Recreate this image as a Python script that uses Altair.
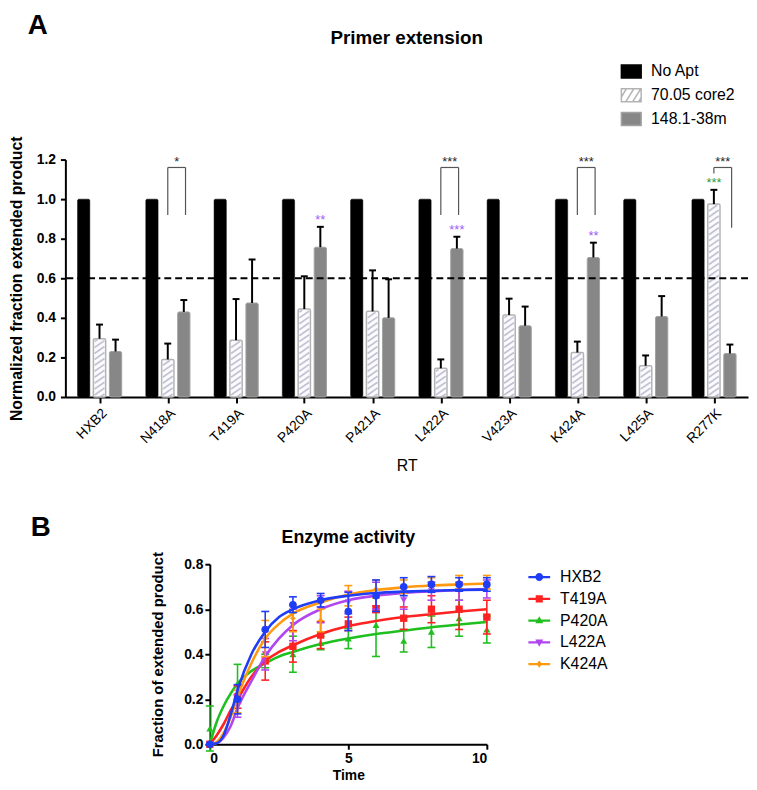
import altair as alt
import pandas as pd

FONT = "Liberation Sans, Arial, Helvetica, sans-serif"

# ---------------- Panel A data ----------------
mutants_a = ["HXB2", "N418A", "T419A", "P420A", "P421A", "L422A", "V423A", "K424A", "L425A", "R277K"]
conds = ["No Apt", "70.05 core2", "148.1-38m"]
noapt_vals = [1.0, 1.0, 1.0, 1.0, 1.0, 1.0, 1.0, 1.0, 1.0, 1.0]
core2_vals = [0.295, 0.19, 0.287, 0.445, 0.433, 0.145, 0.415, 0.225, 0.158, 0.975]
core2_err_top = [0.366, 0.27, 0.495, 0.61, 0.64, 0.19, 0.497, 0.28, 0.21, 1.047]
m148_vals = [0.23, 0.43, 0.475, 0.757, 0.40, 0.75, 0.36, 0.705, 0.407, 0.22]
m148_err_top = [0.29, 0.49, 0.695, 0.86, 0.595, 0.81, 0.457, 0.78, 0.51, 0.265]

bracket_groups = [1, 5, 7, 9]
bracket_text = ["*", "***", "***", "***"]
bracket_top = [1.16, 1.16, 1.16, 1.16]
bracket_left_bottom = [0.92, 0.92, 0.92, 1.13]
bracket_right_bottom = [0.92, 0.92, 0.92, 0.855]

sig_groups = [3, 5, 7, 9]
sig_text = ["**", "***", "**", "***"]
sig_cond = ["148.1-38m", "148.1-38m", "148.1-38m", "70.05 core2"]
sig_color = ["#9b5cf6", "#9b5cf6", "#9b5cf6", "#2f9a3a"]

threshold = [0.6]

# ---------------- Panel B data ----------------
series_b = ["HXB2", "T419A", "P420A", "L422A", "K424A"]
colors_b = ["#1f3df5", "#ff2222", "#1fbf1f", "#b146f0", "#ff9a10"]
times = [0, 1, 2, 3, 4, 5, 6, 7, 8, 9, 10]
vals_b = {
    "HXB2":  [0.0, 0.20, 0.51, 0.62, 0.64, 0.59, 0.66, 0.70, 0.71, 0.71, 0.71],
    "T419A": [0.0, 0.21, 0.37, 0.435, 0.485, 0.535, 0.60, 0.56, 0.60, 0.60, 0.565],
    "P420A": [0.07, 0.27, 0.37, 0.40, 0.45, 0.47, 0.53, 0.46, 0.50, 0.56, 0.51],
    "L422A": [0.0, 0.17, 0.40, 0.53, 0.60, 0.63, 0.66, 0.64, 0.68, 0.68, 0.69],
    "K424A": [0.0, 0.19, 0.47, 0.56, 0.55, 0.66, 0.69, 0.70, 0.71, 0.72, 0.72],
}
errs_b = {
    "HXB2":  [0.0, 0.065, 0.08, 0.035, 0.03, 0.085, 0.07, 0.04, 0.035, 0.03, 0.03],
    "T419A": [0.0, 0.05, 0.085, 0.07, 0.06, 0.03, 0.015, 0.05, 0.06, 0.09, 0.075],
    "P420A": [0.10, 0.085, 0.03, 0.08, 0.03, 0.045, 0.14, 0.05, 0.07, 0.08, 0.06],
    "L422A": [0.0, 0.05, 0.07, 0.07, 0.06, 0.05, 0.06, 0.04, 0.04, 0.04, 0.04],
    "K424A": [0.0, 0.05, 0.08, 0.06, 0.05, 0.045, 0.04, 0.03, 0.03, 0.03, 0.03],
}
curve_t = [0, 0.25, 0.5, 0.75, 1, 1.5, 2, 2.5, 3, 4, 5, 6, 7, 8, 9, 10]
curves_b = {
    "HXB2":  [0, 0.005, 0.04, 0.13, 0.24, 0.40, 0.50, 0.565, 0.60, 0.64, 0.66, 0.672, 0.678, 0.682, 0.685, 0.687],
    "T419A": [0, 0.04, 0.09, 0.15, 0.20, 0.30, 0.37, 0.41, 0.44, 0.49, 0.525, 0.548, 0.565, 0.578, 0.59, 0.60],
    "P420A": [0, 0.10, 0.17, 0.225, 0.27, 0.325, 0.36, 0.39, 0.41, 0.445, 0.47, 0.49, 0.505, 0.52, 0.532, 0.543],
    "L422A": [0, 0.005, 0.03, 0.08, 0.16, 0.28, 0.39, 0.47, 0.53, 0.60, 0.64, 0.66, 0.672, 0.68, 0.685, 0.69],
    "K424A": [0, 0.01, 0.05, 0.12, 0.21, 0.36, 0.47, 0.535, 0.58, 0.63, 0.665, 0.685, 0.697, 0.705, 0.71, 0.714],
}
shapes_b = ["circle", "square", "triangle-up", "triangle-down", "diamond"]
sizes_b = [60, 55, 50, 50, 32]
draw_order_b = ["P420A", "T419A", "L422A", "K424A", "HXB2"]

# ---------------- Layout ----------------
WA, HA = 690, 240
WB, HB = 280, 182

xsA = alt.Scale(domain=[-0.5, 9.5], nice=False, zero=False)
ysA = alt.Scale(domain=[0, 1.2], nice=False)
OFF = {"No Apt": -0.232, "70.05 core2": 0.0, "148.1-38m": 0.235}
BW = 0.18

bar_rows = []
for g in range(10):
    for c, vals in zip(conds, [noapt_vals, core2_vals, m148_vals]):
        xc = g + OFF[c]
        bar_rows.append(dict(g=g, cond=c, xc=xc, x0=xc - BW / 2, x1=xc + BW / 2, v=vals[g], base=0.0))
bars = pd.DataFrame(bar_rows)

err_rows = []
for g in range(10):
    err_rows.append(dict(xc=g + OFF["70.05 core2"], v=core2_vals[g], top=core2_err_top[g]))
    err_rows.append(dict(xc=g + OFF["148.1-38m"], v=m148_vals[g], top=m148_err_top[g]))
errs = pd.DataFrame(err_rows)

# hatch stripes inside the 70.05 core2 bars
PX_X = WA / 10.0
PX_Y = HA / 1.2
HW = 5.0 / PX_X
RISE = 7.0 / PX_Y
STEP = 6.0 / PX_Y
hatch_rows = []
for g, v in enumerate(core2_vals):
    xc = g + OFF["70.05 core2"]
    xl, xr = xc - HW, xc + HW
    top = v - 1.0 / PX_Y
    b = -RISE + 0.5 * STEP
    while b < top:
        t0 = max(0.0, -b / RISE)
        t1 = min(1.0, (top - b) / RISE)
        if t1 > t0:
            hatch_rows.append(dict(hx=xl + t0 * (xr - xl), hx2=xl + t1 * (xr - xl),
                                   hy=b + t0 * RISE, hy2=b + t1 * RISE))
        b += STEP
hatch = pd.DataFrame(hatch_rows)

BR_OFF = 0.26
br_rows, br_h = [], []
for g, lb, rb, tp in zip(bracket_groups, bracket_left_bottom, bracket_right_bottom, bracket_top):
    br_h.append(dict(x=g, x2=g + BR_OFF, y=tp))
    br_rows.append(dict(x=g, y=lb, y2=tp))
    br_rows.append(dict(x=g + BR_OFF, y=rb, y2=tp))
br_h = pd.DataFrame(br_h)
br_v = pd.DataFrame(br_rows)
br_txt = pd.DataFrame(dict(x=[g + BR_OFF / 2 for g in bracket_groups], y=bracket_top, t=bracket_text))

sig_rows = []
for g, t, c, col in zip(sig_groups, sig_text, sig_cond, sig_color):
    top = (core2_err_top if c == "70.05 core2" else m148_err_top)[g]
    sig_rows.append(dict(x=g + OFF[c], y=top + 0.012, t=t, col=col))
sig = pd.DataFrame(sig_rows)

label_expr = "[" + ",".join("'" + m + "'" for m in mutants_a) + "][datum.value]"

axA_x = alt.Axis(values=list(range(10)), labelExpr=label_expr, labelAngle=-45, labelFontSize=14,
                 labelFontWeight="normal", labelPadding=3, tickSize=6, title="RT", titleFontSize=16,
                 titleFontWeight="normal", titlePadding=12)
axA_y = alt.Axis(values=[0.0, 0.2, 0.4, 0.6, 0.8, 1.0, 1.2], format=".1f", labelFontSize=14,
                 labelFontWeight="bold", labelPadding=5, tickSize=5,
                 title="Normalized fraction extended product", titleFontSize=16,
                 titleFontWeight="bold", titlePadding=12)


def XA(f):
    return alt.X(f, scale=xsA, axis=axA_x)


def YA(f):
    return alt.Y(f, scale=ysA, axis=axA_y)


black = alt.Chart(bars[bars.cond == "No Apt"]).mark_rect(fill="black", stroke="black", strokeWidth=0.5,
                                                        cornerRadius=1.5).encode(
    x=XA("x0:Q"), x2="x1:Q", y=YA("v:Q"), y2="base:Q")
hat_fill = alt.Chart(bars[bars.cond == "70.05 core2"]).mark_rect(fill="#fbfbfe", cornerRadius=1.5).encode(
    x=XA("x0:Q"), x2="x1:Q", y=YA("v:Q"), y2="base:Q")
hat_lines = alt.Chart(hatch).mark_rule(color="#c3c3d6", strokeWidth=1.8).encode(
    x=XA("hx:Q"), x2="hx2:Q", y=YA("hy:Q"), y2="hy2:Q")
hat_edge = alt.Chart(bars[bars.cond == "70.05 core2"]).mark_rect(fill=None, stroke="#b3b3b3", strokeWidth=1.5,
                                                                 cornerRadius=1.5).encode(
    x=XA("x0:Q"), x2="x1:Q", y=YA("v:Q"), y2="base:Q")
gray = alt.Chart(bars[bars.cond == "148.1-38m"]).mark_rect(fill="#878787", stroke="#a2a2a2", strokeWidth=1,
                                                          cornerRadius=1.5).encode(
    x=XA("x0:Q"), x2="x1:Q", y=YA("v:Q"), y2="base:Q")
dash = alt.Chart(pd.DataFrame({"thr": threshold})).mark_rule(color="black", strokeWidth=2,
                                                             strokeDash=[7, 4]).encode(y=YA("thr:Q"))
err_rule = alt.Chart(errs).mark_rule(color="black", strokeWidth=2).encode(
    x=XA("xc:Q"), y=YA("v:Q"), y2="top:Q")
err_cap = alt.Chart(errs).mark_point(shape="M-1,0L1,0", size=49, filled=False, color="black",
                                     strokeWidth=2, opacity=1).encode(x=XA("xc:Q"), y=YA("top:Q"))
brh = alt.Chart(br_h).mark_rule(color="#555555", strokeWidth=1.2).encode(x=XA("x:Q"), x2="x2:Q", y=YA("y:Q"))
brv = alt.Chart(br_v).mark_rule(color="#555555", strokeWidth=1.2).encode(x=XA("x:Q"), y=YA("y:Q"), y2="y2:Q")
brt = alt.Chart(br_txt).mark_text(font=FONT, fontSize=13, baseline="alphabetic", dy=-1, color="#222222").encode(
    x=XA("x:Q"), y=YA("y:Q"), text="t:N")
sigt = alt.Chart(sig).mark_text(font=FONT, fontSize=13, baseline="alphabetic").encode(
    x=XA("x:Q"), y=YA("y:Q"), text="t:N", color=alt.Color("col:N", scale=None))

titleA = alt.Chart(pd.DataFrame({"t": ["Primer extension"]})).mark_text(
    font=FONT, fontSize=19, fontWeight="bold", align="center", baseline="middle").encode(
    x=alt.value(WA / 2), y=alt.value(-123), text="t:N")
letterA = alt.Chart(pd.DataFrame({"t": ["A"]})).mark_text(
    font=FONT, fontSize=28, fontWeight="bold", align="center", baseline="middle").encode(
    x=alt.value(-28), y=alt.value(-135), text="t:N")

rect_path = "M-1,-0.65H1V0.65H-1Z"
hatch_path = ("M-1,-0.65H1V0.65H-1Z M-1,0.2L-0.5,-0.65 M-0.55,0.65L0.25,-0.65 "
              "M0.15,0.65L0.95,-0.65 M0.75,0.65L1,0.25")
legA = alt.Legend(title=None, orient="none", legendX=561, legendY=-100, symbolSize=400, symbolStrokeWidth=1.5,
                  labelFontSize=16, labelFont=FONT, labelColor="black", rowPadding=3, labelOffset=9,
                  symbolOpacity=1)
legend_a = alt.Chart(pd.DataFrame({"cond": conds})).transform_filter("false").mark_point(
    filled=True, opacity=1).encode(
    x=alt.value(0), y=alt.value(0),
    fill=alt.Fill("cond:N", scale=alt.Scale(domain=conds, range=["#000000", "#ffffff", "#878787"]), legend=legA),
    stroke=alt.Stroke("cond:N", scale=alt.Scale(domain=conds, range=["#000000", "#b3b3b3", "#a2a2a2"]), legend=legA),
    shape=alt.Shape("cond:N", scale=alt.Scale(domain=conds, range=[rect_path, hatch_path, rect_path]), legend=legA),
)

chartA = alt.layer(black, hat_fill, hat_lines, hat_edge, gray, dash, err_rule, err_cap, brh, brv, brt, sigt,
                   titleA, letterA, legend_a).properties(width=WA, height=HA)

# ---------------- Panel B ----------------
xsB = alt.Scale(domain=[0, 10], nice=False)
ysB = alt.Scale(domain=[0, 0.8], nice=False)
axB_x = alt.Axis(values=[0, 5, 10], format="d", labelFontSize=14, labelFontWeight="bold", labelPadding=2,
                 tickSize=5, title="Time", titleFontSize=14, titleFontWeight="bold", titlePadding=4)
axB_y = alt.Axis(values=[0.0, 0.2, 0.4, 0.6, 0.8], format=".1f", labelFontSize=14, labelFontWeight="bold",
                 labelPadding=2, tickSize=5, title="Fraction of extended product", titleFontSize=15,
                 titleFontWeight="bold", titlePadding=18)


def XB(f):
    return alt.X(f, scale=xsB, axis=axB_x)


def YB(f):
    return alt.Y(f, scale=ysB, axis=axB_y)


layers_b = []
for name in draw_order_b:
    i = series_b.index(name)
    col = colors_b[i]
    pts = pd.DataFrame({"t": times, "v": vals_b[name], "e": errs_b[name]})
    pts["lo"] = pts.v - pts.e
    pts["hi"] = pts.v + pts.e
    eb = pts[pts.e > 0]
    cur = pd.DataFrame({"t": curve_t, "v": curves_b[name]})
    layers_b.append(alt.Chart(eb).mark_rule(color=col, strokeWidth=1.6).encode(
        x=XB("t:Q"), y=YB("lo:Q"), y2="hi:Q"))
    for fld in ["lo", "hi"]:
        layers_b.append(alt.Chart(eb).mark_point(shape="M-1,0L1,0", size=64, filled=False, color=col,
                                                 strokeWidth=1.6, opacity=1).encode(
            x=XB("t:Q"), y=YB(fld + ":Q")))
    layers_b.append(alt.Chart(cur).mark_line(color=col, strokeWidth=2.6, interpolate="monotone").encode(
        x=XB("t:Q"), y=YB("v:Q")))
    layers_b.append(alt.Chart(pts).mark_point(shape=shapes_b[i], size=sizes_b[i], filled=True, color=col,
                                              opacity=1).encode(x=XB("t:Q"), y=YB("v:Q")))

line_path = "M-1.375,-0.14H1.375V0.14H-1.375Z"
marker_paths = [
    "M0.5,0A0.5,0.5,0,1,1,-0.5,0A0.5,0.5,0,1,1,0.5,0Z",
    "M-0.45,-0.45H0.45V0.45H-0.45Z",
    "M0,-0.55L0.5,0.35H-0.5Z",
    "M0,0.55L-0.5,-0.35H0.5Z",
    "M0,-0.45L0.35,0L0,0.45L-0.35,0Z",
]
legend_paths_b = [line_path + " " + p for p in marker_paths]
legB = alt.Legend(title=None, orient="none", legendX=325, legendY=5, symbolSize=256, labelFontSize=16,
                  labelFont=FONT, labelColor="black", rowPadding=6, labelOffset=13, symbolOpacity=1,
                  symbolStrokeWidth=0)
legend_b = alt.Chart(pd.DataFrame({"mutant": series_b})).transform_filter("false").mark_point(
    filled=True, opacity=1).encode(
    x=alt.value(0), y=alt.value(0),
    color=alt.Color("mutant:N", scale=alt.Scale(domain=series_b, range=colors_b), legend=legB),
    shape=alt.Shape("mutant:N", scale=alt.Scale(domain=series_b, range=legend_paths_b), legend=legB),
)

titleB = alt.Chart(pd.DataFrame({"t": ["Enzyme activity"]})).mark_text(
    font=FONT, fontSize=18, fontWeight="bold", align="center", baseline="middle").encode(
    x=alt.value(WB / 2), y=alt.value(-26), text="t:N")

chartB = alt.layer(*layers_b, legend_b, titleB).properties(width=WB, height=HB)

# left column of the lower row: holds the panel letter
letterB = alt.Chart(pd.DataFrame({"t": ["B"]})).mark_text(
    font=FONT, fontSize=28, fontWeight="bold", align="center", baseline="middle").encode(
    x=alt.value(-25), y=alt.value(-37), text="t:N").properties(width=70, height=1)

rowB = alt.hconcat(letterB, chartB, spacing=16).resolve_scale(
    color="independent", shape="independent").resolve_legend(color="independent", shape="independent")

chart = alt.vconcat(chartA, rowB, spacing=40).resolve_scale(
    color="independent", shape="independent", fill="independent", stroke="independent"
).resolve_legend(
    color="independent", shape="independent", fill="independent", stroke="independent"
).properties(
    padding={"left": 0, "top": 0, "right": 0, "bottom": 0}
).configure_view(stroke=None).configure_axis(
    domainWidth=2, domainColor="black", tickWidth=2, tickColor="black", grid=False,
    labelColor="black", titleColor="black", labelFont=FONT, titleFont=FONT
).configure_text(font=FONT)

chart.save("out.html", embed_options={"renderer": "svg", "actions": False})
